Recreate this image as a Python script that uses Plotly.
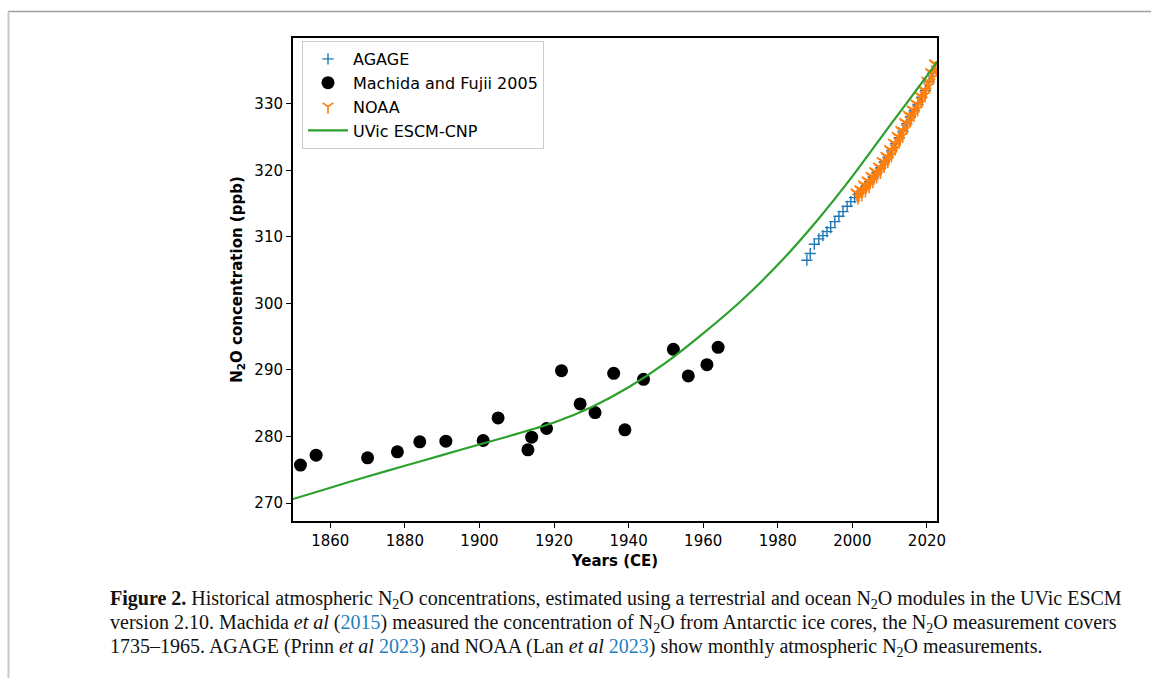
import plotly.graph_objects as go

# ---------------- data ----------------
machida_years = [1852.0, 1856.2, 1870.0, 1878.0, 1884.0, 1891.0, 1901.0, 1905.0, 1913.0, 1914.0,
                 1918.0, 1922.0, 1927.0, 1931.0, 1936.0, 1939.0, 1944.0, 1952.0, 1956.0, 1961.0, 1964.0]
machida_n2o = [275.7, 277.2, 276.8, 277.7, 279.2, 279.3, 279.4, 282.8, 278.0, 279.9,
               281.2, 289.9, 284.9, 283.6, 289.5, 281.0, 288.6, 293.1, 289.1, 290.8, 293.4]

uvic_years = [1850, 1860, 1870, 1880, 1890, 1900, 1910, 1920, 1930, 1940, 1950,
              1960, 1970, 1980, 1990, 2000, 2010, 2020, 2022.7]
uvic_n2o = [270.6, 272.3, 274.0, 275.6, 277.2, 278.8, 280.4, 282.1, 284.4, 287.4, 291.1,
            295.5, 300.3, 305.8, 312.1, 319.1, 326.7, 334.2, 336.3]

agage_years = [1987.8, 1988.7, 1989.8, 1991.0, 1992.1, 1993.2, 1994.2, 1995.3, 1996.4, 1997.5,
               1998.6, 1999.6, 2000.6, 2001.6, 2002.6, 2003.6, 2004.6, 2005.6, 2006.6, 2007.6,
               2008.6, 2009.6, 2010.6, 2011.6, 2012.6, 2013.6, 2014.6, 2015.6, 2016.6, 2017.6,
               2018.6, 2019.6, 2020.6, 2021.6]
agage_n2o = [306.5, 307.5, 308.9, 309.7, 310.2, 310.8, 311.4, 312.3, 313.1, 313.8,
             314.6, 315.3, 315.9, 316.4, 317.0, 317.6, 318.3, 319.0, 319.7, 320.4,
             321.3, 322.0, 323.0, 324.0, 324.9, 325.9, 327.0, 328.1, 329.0, 329.9,
             331.0, 332.0, 333.3, 334.6]

noaa_first_year = 2001
noaa_n2o = [
    316.7, 316.5, 315.9, 316.3,
    317.2, 317.0, 316.4, 316.9,
    317.9, 317.7, 317.0, 317.6,
    318.5, 318.3, 317.7, 318.2,
    319.2, 319.0, 318.4, 318.9,
    319.9, 319.7, 319.1, 319.6,
    320.6, 320.4, 319.8, 320.3,
    321.4, 321.3, 320.7, 321.2,
    322.2, 322.0, 321.4, 321.9,
    323.2, 323.0, 322.3, 322.9,
    324.2, 324.0, 323.3, 323.9,
    325.2, 325.0, 324.3, 324.9,
    326.1, 325.9, 325.2, 325.9,
    327.3, 327.1, 326.4, 327.0,
    328.4, 328.2, 327.5, 328.1,
    329.2, 329.0, 328.3, 328.9,
    330.1, 329.9, 329.2, 329.8,
    331.3, 331.1, 330.4, 331.0,
    332.2, 332.0, 331.3, 331.9,
    333.5, 333.3, 332.6, 333.2,
    334.8, 334.6, 333.9, 334.5,
    336.1, 335.9, 335.2, 335.8,
]
noaa_years = [noaa_first_year + i / 4 for i in range(len(noaa_n2o))]

x_ticks = [1860, 1880, 1900, 1920, 1940, 1960, 1980, 2000, 2020]
y_ticks = [270, 280, 290, 300, 310, 320, 330]

# ---------------- layout geometry ----------------
W, H = 1151, 678
L, R, T, B = 293, 937, 38, 521
PW, PH = R - L, B - T


def px(x):
    return (x - L) / PW


def py(y):
    return (B - y) / PH


fig = go.Figure()

fig.add_trace(go.Scatter(
    x=agage_years, y=agage_n2o, mode="markers", name="AGAGE",
    marker=dict(symbol="cross-thin-open", size=8, color="#1f77b4",
                line=dict(color="#1f77b4", width=1.4)),
))
fig.add_trace(go.Scatter(
    x=machida_years, y=machida_n2o, mode="markers", name="Machida and Fujii 2005",
    marker=dict(symbol="circle", size=13, color="black", line=dict(width=0)),
))
fig.add_trace(go.Scatter(
    x=noaa_years, y=noaa_n2o, mode="markers", name="NOAA",
    marker=dict(symbol="y-down-open", size=9, color="#ff7f0e",
                line=dict(color="#ff7f0e", width=1.6)),
))
fig.add_trace(go.Scatter(
    x=uvic_years, y=uvic_n2o, mode="lines", name="UVic ESCM-CNP",
    line=dict(color="#2ca02c", width=2.2, shape="spline", smoothing=0.8),
))

tick_font = dict(family="DejaVu Sans", size=15, color="black")

fig.update_xaxes(
    range=[1850, 2022.7], tickvals=x_ticks, ticks="outside", ticklen=5, tickwidth=1.3,
    tickcolor="black", showline=True, linecolor="black", linewidth=2, mirror=True,
    showgrid=False, zeroline=False, tickfont=tick_font,
    title=dict(text="<b>Years (CE)</b>", font=dict(family="DejaVu Sans", size=15, color="black"),
               standoff=6),
)
fig.update_yaxes(
    range=[267.3, 339.9], tickvals=y_ticks, ticks="outside", ticklen=5, tickwidth=1.3,
    tickcolor="black", showline=True, linecolor="black", linewidth=2, mirror=True,
    showgrid=False, zeroline=False, tickfont=tick_font,
    title=dict(text="<b>N<sub>2</sub>O concentration (ppb)</b>",
               font=dict(family="DejaVu Sans", size=15, color="black"), standoff=8),
)

caption_font = dict(family="Liberation Serif", size=20, color="#111")
blue = "#1f7fc0"
caption_lines = [
    "<b>Figure 2.</b> Historical atmospheric N<sub>2</sub>O concentrations, estimated using a terrestrial "
    "and ocean N<sub>2</sub>O modules in the UVic ESCM",
    "version 2.10. Machida <i>et al</i> (<span style='color:%s'>2015</span>) measured the concentration "
    "of N<sub>2</sub>O from Antarctic ice cores, the N<sub>2</sub>O measurement covers" % blue,
    "1735\u20131965. AGAGE (Prinn <i>et al</i> <span style='color:%s'>2023</span>) and NOAA (Lan "
    "<i>et al</i> <span style='color:%s'>2023</span>) show monthly atmospheric N<sub>2</sub>O measurements." % (blue, blue),
]
caption_y = [599, 623, 647]
annotations = []
for txt, yy in zip(caption_lines, caption_y):
    annotations.append(dict(
        text=txt, x=px(108), y=py(yy), xref="paper", yref="paper",
        xanchor="left", yanchor="middle", showarrow=False, font=caption_font, align="left",
    ))

shapes = [
    dict(type="line", xref="paper", yref="paper", x0=px(8), x1=px(W), y0=py(11.5), y1=py(11.5),
         line=dict(color="#a0a0a0", width=1.5)),
    dict(type="line", xref="paper", yref="paper", x0=px(8.5), x1=px(8.5), y0=py(11.5), y1=py(H),
         line=dict(color="#c8c8c8", width=2)),
]

fig.update_layout(
    width=W, height=H, margin=dict(l=L, r=W - R, t=T, b=H - B, pad=0),
    paper_bgcolor="white", plot_bgcolor="white",
    font=dict(family="DejaVu Sans", size=15, color="black"),
    legend=dict(x=px(302), y=py(41), xanchor="left", yanchor="top",
                bgcolor="rgba(255,255,255,0.9)", bordercolor="#cccccc", borderwidth=1,
                font=dict(family="DejaVu Sans", size=16, color="black"),
                itemwidth=40, tracegroupgap=0),
    annotations=annotations, shapes=shapes, showlegend=True,
)

fig.write_html("out.html")
